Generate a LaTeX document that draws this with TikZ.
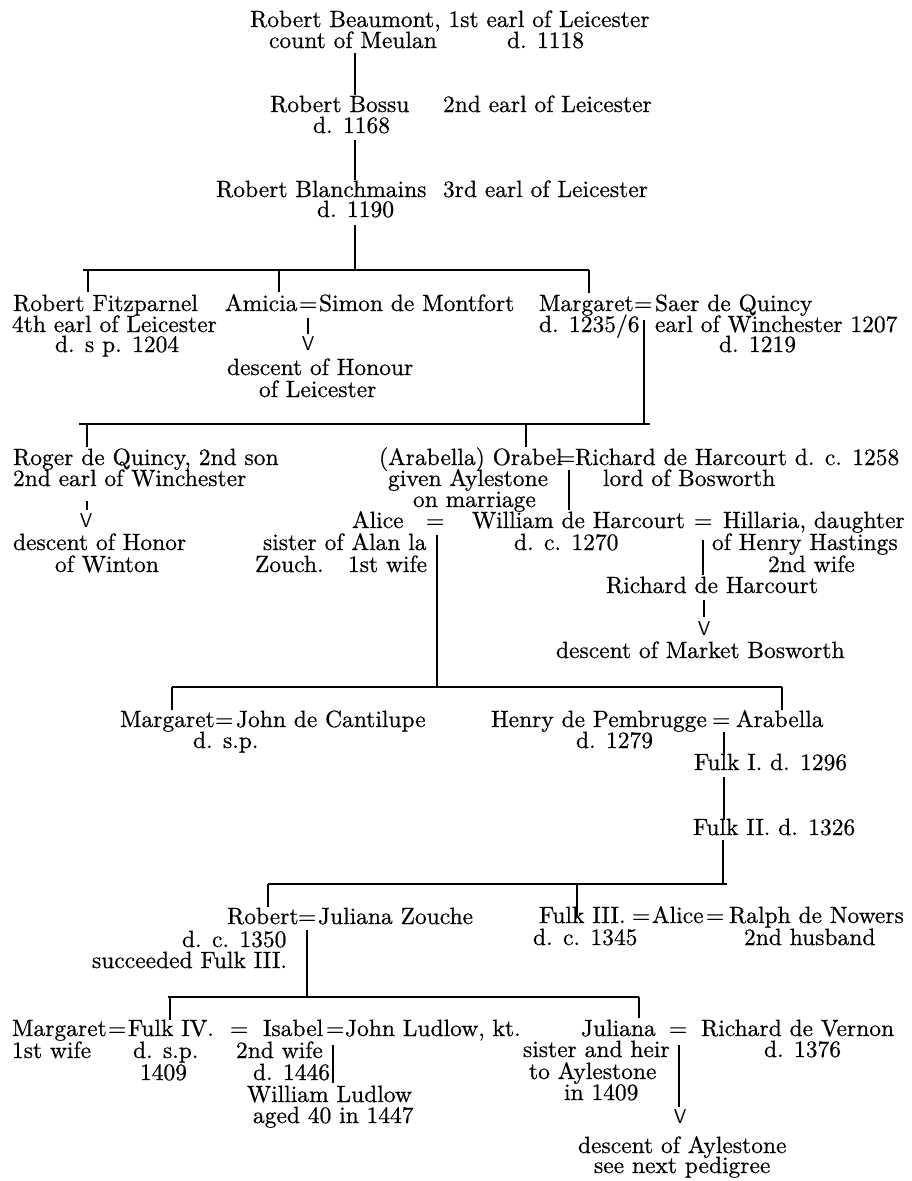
\documentclass[tikz,border=0pt]{standalone}
\usepackage{fontspec}
\setmainfont{lmroman10-regular.otf}[FakeBold=0.6]
\begin{document}
\begin{tikzpicture}[x=1pt,y=-1pt,
  t/.style={anchor=base west,inner sep=0pt,outer sep=0pt,font=\fontsize{23.5}{21.3}\selectfont},
  vee/.style={anchor=base,inner sep=0pt,outer sep=0pt,font=\sffamily\fontsize{20}{20}\selectfont},
  ln/.style={line width=1.1pt}]
\useasboundingbox (0,0) rectangle (912,1181);
% ---------- generations 1-3
\node[t] (rb)  at (250,27)  {Robert Beaumont, 1st earl of Leicester};
\node[t] (rbm) at (269,48)  {count of Meulan};
\node[t] (rbd) at (507,48)  {d. 1118};
\node[t] (bo)  at (270,112) {Robert Bossu};
\node[t] (boe) at (443,112) {2nd earl of Leicester};
\node[t] (bod) at (313,133) {d. 1168};
\node[t] (bl)  at (216,197) {Robert Blanchmains};
\node[t] (ble) at (443,197) {3rd earl of Leicester};
\node[t] (bld) at (317,217) {d. 1190};
% ---------- generation 4
\node[t] (fp)  at (13,311)  {Robert Fitzparnel};
\node[t] (fp2) at (12,332)  {4th earl of Leicester};
\node[t] (fp3) at (55,352)  {d. s p. 1204};
\node[t] (am)  at (225,311) {Amicia};
\node[t] (e1)  at (299,311) {=};
\node[t] (sm)  at (319,311) {Simon de Montfort};
\node[vee] (v1) at (308,350) {V};
\node[t] (dh1) at (227,375) {descent of Honour};
\node[t] (dh2) at (259,397) {of Leicester};
\node[t] (mg)  at (539,311) {Margaret};
\node[t] (e2)  at (634,311) {=};
\node[t] (sq)  at (655,311) {Saer de Quincy};
\node[t] (mgd) at (539,332) {d. 1235/6};
\node[t] (sq2) at (655,332) {earl of Winchester 1207};
\node[t] (sq3) at (719,352) {d. 1219};
% ---------- generation 5
\node[t] (rq)  at (13,465)  {Roger de Quincy, 2nd son};
\node[t] (rq2) at (13,486)  {2nd earl of Winchester};
\node[vee] (v2) at (86,527) {V};
\node[t] (dw1) at (13,550)  {descent of Honor};
\node[t] (dw2) at (55,572)  {of Winton};
\node[t] (or)  at (379,465) {(Arabella) Orabel};
\node[t] (e3)  at (557,465) {=};
\node[t] (rh)  at (575,465) {Richard de Harcourt d. c. 1258};
\node[t] (or2) at (388,486) {given Aylestone};
\node[t] (rh2) at (603,486) {lord of Bosworth};
\node[t] (or3) at (413,507) {on marriage};
\node[t] (al)  at (352,528) {Alice};
\node[t] (e4)  at (426,528) {=};
\node[t] (wh)  at (472,528) {William de Harcourt};
\node[t] (e5)  at (694,528) {=};
\node[t] (hi)  at (723,528) {Hillaria, daughter};
\node[t] (al2) at (263,550) {sister of Alan la};
\node[t] (wh2) at (514,550) {d. c. 1270};
\node[t] (hi2) at (712,550) {of Henry Hastings};
\node[t] (al3) at (255,572) {Zouch.};
\node[t] (al4) at (348,572) {1st wife};
\node[t] (hi3) at (768,572) {2nd wife};
\node[t] (rh3) at (606,593) {Richard de Harcourt};
\node[vee] (v3) at (704,635) {V};
\node[t] (mb)  at (556,658) {descent of Market Bosworth};
% ---------- generation 6
\node[t] (mc)  at (120,727) {Margaret};
\node[t] (e6)  at (215,727) {=};
\node[t] (jc)  at (236,727) {John de Cantilupe};
\node[t] (mc2) at (193,748) {d. s.p.};
\node[t] (hp)  at (491,727) {Henry de Pembrugge};
\node[t] (e7)  at (712,727) {=};
\node[t] (ar)  at (736,727) {Arabella};
\node[t] (hp2) at (576,748) {d. 1279};
\node[t] (f1)  at (694,770) {Fulk I. d. 1296};
\node[t] (f2)  at (693,835) {Fulk II. d. 1326};
% ---------- generation 9
\node[t] (ro)  at (227,924) {Robert};
\node[t] (e8)  at (298,924) {=};
\node[t] (jz)  at (318,924) {Juliana Zouche};
\node[t] (ro2) at (182,947) {d. c. 1350};
\node[t] (ro3) at (92,968)  {succeeded Fulk III.};
\node[t] (f3)  at (539,923) {Fulk III.};
\node[t] (e9)  at (632,923) {=};
\node[t] (al5) at (652,923) {Alice};
\node[t] (e10) at (706,923) {=};
\node[t] (rn)  at (729,923) {Ralph de Nowers};
\node[t] (f32) at (533,945) {d. c. 1345};
\node[t] (rn2) at (744,945) {2nd husband};
% ---------- generation 10
\node[t] (mg2) at (12,1036)  {Margaret};
\node[t] (e11) at (108,1036) {=};
\node[t] (f4)  at (128,1036) {Fulk IV.};
\node[t] (e12) at (230,1036) {=};
\node[t] (is)  at (263,1036) {Isabel};
\node[t] (e13) at (326,1036) {=};
\node[t] (jl)  at (345,1036) {John Ludlow, kt.};
\node[t] (mg3) at (12,1058)  {1st wife};
\node[t] (f42) at (133,1058) {d. s.p.};
\node[t] (f43) at (140,1080) {1409};
\node[t] (is2) at (236,1058) {2nd wife};
\node[t] (is3) at (253,1080) {d. 1446};
\node[t] (wl)  at (247,1102) {William Ludlow};
\node[t] (wl2) at (253,1123) {aged 40 in 1447};
\node[t] (ju)  at (581,1036) {Juliana};
\node[t] (e14) at (669,1036) {=};
\node[t] (rv)  at (701,1036) {Richard de Vernon};
\node[t] (ju2) at (523,1057) {sister and heir};
\node[t] (rv2) at (764,1057) {d. 1376};
\node[t] (ju3) at (529,1079) {to Aylestone};
\node[t] (ju4) at (564,1100) {in 1409};
\node[vee] (v4) at (680,1123) {V};
\node[t] (da1) at (578,1153) {descent of Aylestone};
\node[t] (da2) at (594,1173) {see next pedigree};
% ---------- connector end points
\coordinate (a1) at (355,53);  \coordinate (a2) at (355,95);
\coordinate (a3) at (355,140); \coordinate (a4) at (355,180);
\coordinate (a5) at (355,225); \coordinate (a6) at (355,270);
\coordinate (b1l) at (83,270); \coordinate (b1r) at (589,270);
\coordinate (b1a) at (88,270); \coordinate (b1a') at (88,292);
\coordinate (b1b) at (279,270); \coordinate (b1b') at (279,292);
\coordinate (b1c') at (589,293);
\coordinate (am1) at (308,318); \coordinate (am2) at (308,334);
\coordinate (mq1) at (644,320); \coordinate (mq2) at (644,424);
\coordinate (b2l) at (79,424); \coordinate (b2r) at (650,424);
\coordinate (b2a) at (87,424); \coordinate (b2a') at (87,447);
\coordinate (b2b) at (526,424); \coordinate (b2b') at (526,447);
\coordinate (rq3) at (87,501); \coordinate (rq4) at (87,510);
\coordinate (oh1) at (569,470); \coordinate (oh2) at (569,510);
\coordinate (aw1) at (437,535); \coordinate (aw2) at (437,687);
\coordinate (wh3) at (703,540); \coordinate (wh4) at (703,575);
\coordinate (rh4) at (704,600); \coordinate (rh5) at (704,617);
\coordinate (b3l) at (172,687); \coordinate (b3r) at (782,687);
\coordinate (b3a') at (172,710); \coordinate (b3b') at (782,710);
\coordinate (ha1) at (724,732); \coordinate (ha2) at (724,755);
\coordinate (fa1) at (724,777); \coordinate (fa2) at (724,820);
\coordinate (fb1) at (723,840); \coordinate (fb2) at (723,884);
\coordinate (b4l) at (268,884); \coordinate (b4r) at (727,884);
\coordinate (b4a') at (268,907);
\coordinate (b4b) at (577,884); \coordinate (b4b') at (577,917);
\coordinate (rj1) at (307,930); \coordinate (rj2) at (307,997);
\coordinate (b5l) at (168,997); \coordinate (b5r) at (639,997);
\coordinate (b5a) at (170,997); \coordinate (b5a') at (170,1020);
\coordinate (b5b') at (639,1018);
\coordinate (ij1) at (333,1045); \coordinate (ij2) at (333,1083);
\coordinate (jv1) at (679,1045); \coordinate (jv2) at (679,1107);
% ---------- connectors
\draw[ln] (a1) -- (a2);
\draw[ln] (a3) -- (a4);
\draw[ln] (a5) -- (a6);
\draw[ln] (b1l) -- (b1r);
\draw[ln] (b1a) -- (b1a');
\draw[ln] (b1b) -- (b1b');
\draw[ln] (b1r) -- (b1c');
\draw[ln] (am1) -- (am2);
\draw[ln] (mq1) -- (mq2);
\draw[ln] (b2l) -- (b2r);
\draw[ln] (b2a) -- (b2a');
\draw[ln] (b2b) -- (b2b');
\draw[ln] (rq3) -- (rq4);
\draw[ln] (oh1) -- (oh2);
\draw[ln] (aw1) -- (aw2);
\draw[ln] (wh3) -- (wh4);
\draw[ln] (rh4) -- (rh5);
\draw[ln] (b3l) -- (b3r);
\draw[ln] (b3l) -- (b3a');
\draw[ln] (b3r) -- (b3b');
\draw[ln] (ha1) -- (ha2);
\draw[ln] (fa1) -- (fa2);
\draw[ln] (fb1) -- (fb2);
\draw[ln] (b4l) -- (b4r);
\draw[ln] (b4l) -- (b4a');
\draw[ln] (b4b) -- (b4b');
\draw[ln] (rj1) -- (rj2);
\draw[ln] (b5l) -- (b5r);
\draw[ln] (b5a) -- (b5a');
\draw[ln] (b5r) -- (b5b');
\draw[ln] (ij1) -- (ij2);
\draw[ln] (jv1) -- (jv2);
\end{tikzpicture}
\end{document}
